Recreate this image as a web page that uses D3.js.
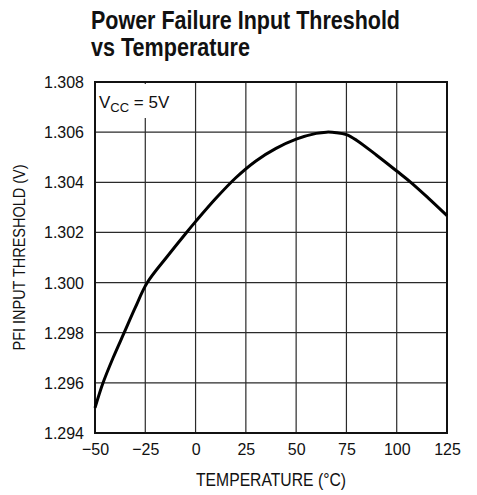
<!DOCTYPE html>
<html>
<head>
<meta charset="UTF-8">
<title>Power Failure Input Threshold vs Temperature</title>
<script src="https://d3js.org/d3.v7.min.js"></script>
<style type="text/css">
	body { margin: 0; background: #fff; }
	svg text { font-family: "Liberation Sans", Arial, sans-serif; fill: #111; }
	.title { font-weight: bold; font-size: 25px; }
	.tick text { font-size: 17px; }
	.grid line { stroke: #2a2a2a; stroke-width: 1.2px; }
</style>
</head>
<body>
<div id="chart"></div>
<script>
// curve
var temps = [-50, -46, -41, -35.5, -30, -24, -14, -5, 0, 10, 20, 30, 40, 50, 60, 65, 70, 75, 80, 90, 100, 107, 116, 125];
var threshold = [1.2950, 1.2960, 1.2970, 1.2980, 1.2990, 1.3000, 1.30105, 1.30195, 1.30243, 1.30335, 1.30418, 1.30485,
	1.30535, 1.30572, 1.30595, 1.3060, 1.30598, 1.30590, 1.30568, 1.30508, 1.30445, 1.3040, 1.30335, 1.30267];
var xTicks = [-50, -25, 0, 25, 50, 75, 100, 125];
var yTicks = [1.294, 1.296, 1.298, 1.300, 1.302, 1.304, 1.306, 1.308];

var W = 477, H = 495;
var margin = {top: 82, right: 30, bottom: 62, left: 95};
var width = W - margin.left - margin.right;
var height = H - margin.top - margin.bottom;

// squeeze text horizontally, the datasheet uses a condensed face
function squeeze(sel, k) {
	sel.each(function(){
		var len = this.getComputedTextLength();
		d3.select(this).attr("textLength", len * k).attr("lengthAdjust", "spacingAndGlyphs");
	});
}

var svg = d3.select("#chart").append("svg")
	.attr("width", W)
	.attr("height", H);

svg.append("text").attr("class", "title").attr("x", 91).attr("y", 29)
	.attr("textLength", 309).attr("lengthAdjust", "spacingAndGlyphs")
	.text("Power Failure Input Threshold");
svg.append("text").attr("class", "title").attr("x", 91).attr("y", 56)
	.attr("textLength", 159).attr("lengthAdjust", "spacingAndGlyphs")
	.text("vs Temperature");

var g = svg.append("g").attr("transform", "translate(" + margin.left + "," + margin.top + ")");

var x = d3.scaleLinear().domain([-50, 125]).range([0, width]);
var y = d3.scaleLinear().domain([1.294, 1.308]).range([height, 0]);

// grid
var grid = g.append("g").attr("class", "grid");
grid.selectAll(".vx").data(xTicks).enter().append("line")
	.attr("x1", function(d){ return x(d); })
	.attr("x2", function(d){ return x(d); })
	.attr("y1", 0).attr("y2", height);
grid.selectAll(".hy").data(yTicks).enter().append("line")
	.attr("x1", 0).attr("x2", width)
	.attr("y1", function(d){ return y(d); })
	.attr("y2", function(d){ return y(d); });

// white patch behind the Vcc note
g.append("rect").attr("x", 2).attr("y", 2).attr("width", 76).attr("height", 34).attr("fill", "#fff");

var note = g.append("text").attr("x", 4).attr("y", 26).style("font-size", "17px");
note.append("tspan").text("V");
note.append("tspan").attr("dy", 4).style("font-size", "13px").text("CC");
note.append("tspan").attr("dy", -4).text(" = 5V");

// axes (labels only)
var xAxis = d3.axisBottom(x).tickValues(xTicks).tickSize(0).tickPadding(10);
var yAxis = d3.axisLeft(y).tickValues(yTicks).tickSize(0).tickPadding(11).tickFormat(d3.format(".3f"));

g.append("g").attr("transform", "translate(0," + height + ")").call(xAxis)
	.call(function(a){ a.select(".domain").remove(); });
g.append("g").call(yAxis)
	.call(function(a){ a.select(".domain").remove(); });
g.selectAll(".tick text").attr("fill", "#111").call(squeeze, 0.94);

// frame
g.append("rect").attr("x", 0).attr("y", 0).attr("width", width).attr("height", height)
	.attr("fill", "none").attr("stroke", "#111").attr("stroke-width", 2);

// curve
var line = d3.line()
	.x(function(d, i){ return x(temps[i]); })
	.y(function(d){ return y(d); })
	.curve(d3.curveCatmullRom.alpha(0.5));

g.append("path").datum(threshold)
	.attr("d", line)
	.attr("fill", "none")
	.attr("stroke", "#000")
	.attr("stroke-width", 3);

// axis titles
svg.append("text")
	.attr("x", margin.left + width / 2).attr("y", 486)
	.attr("text-anchor", "middle").style("font-size", "18px")
	.attr("textLength", 150).attr("lengthAdjust", "spacingAndGlyphs")
	.text("TEMPERATURE (°C)");
svg.append("text")
	.attr("transform", "translate(25," + (margin.top + height / 2) + ") rotate(-90)")
	.attr("text-anchor", "middle").style("font-size", "17px")
	.attr("textLength", 186).attr("lengthAdjust", "spacingAndGlyphs")
	.text("PFI INPUT THRESHOLD (V)");
</script>
</body>
</html>
